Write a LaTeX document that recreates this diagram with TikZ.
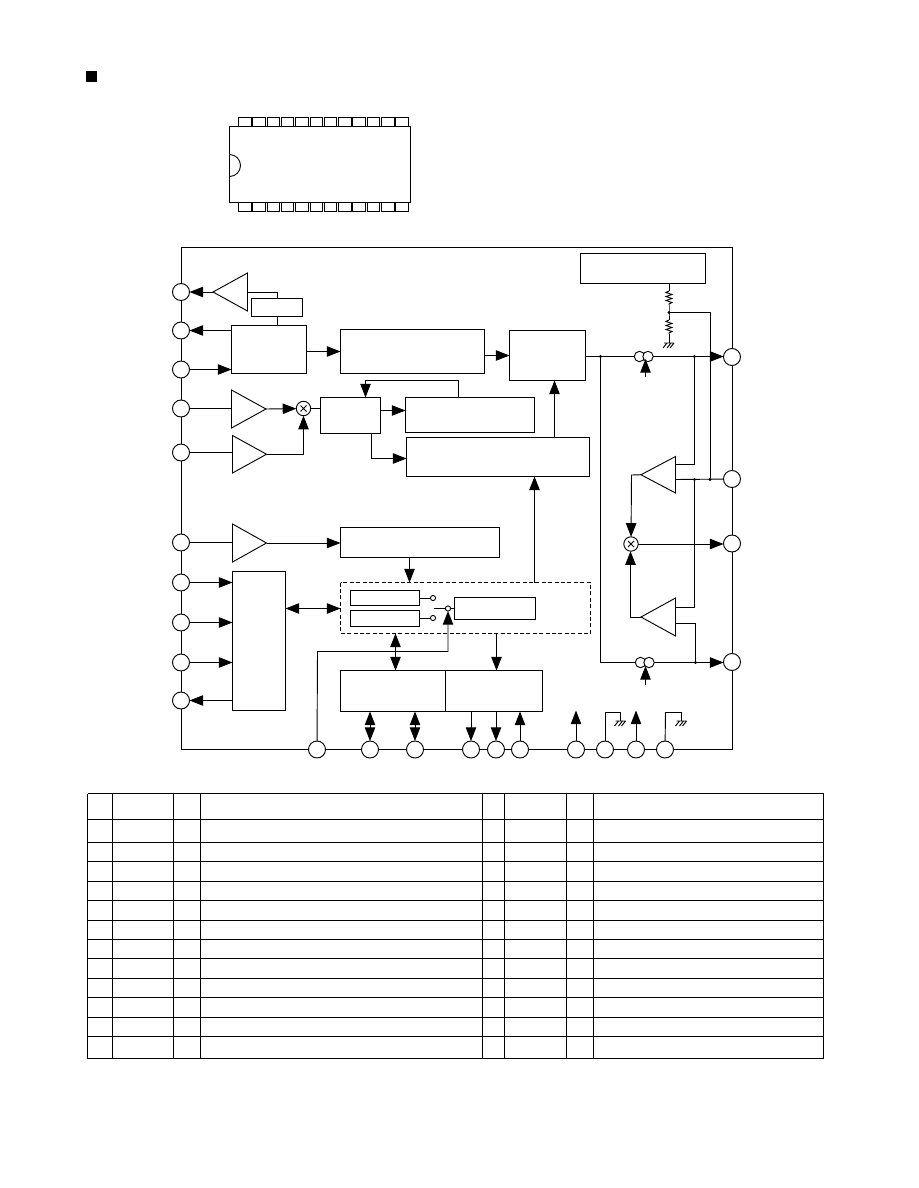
\documentclass[tikz,border=0pt]{standalone}
\usetikzlibrary{arrows.meta,calc}

% Block of given corner coordinates, in picture units of half a point
\newcommand{\blk}[5]{%
  \pgfmathsetmacro{\bw}{(#4-#2)*0.5}%
  \pgfmathsetmacro{\bh}{(#5-#3)*0.5}%
  \node[blockbox,minimum width=\bw pt,minimum height=\bh pt] (#1) at ({(#2+#4)/2},{(#3+#5)/2}) {};}
% Terminal circle of the package outline
\newcommand{\pinc}[3]{\node[pincircle] (#1) at (#2,#3) {};}
% Triangular amplifier: name, base x, top y, bottom y, tip x
\newcommand{\amp}[5]{%
  \coordinate (#1-tip) at (#5,{(#3+#4)/2});
  \coordinate (#1-base) at (#2,{(#3+#4)/2});
  \draw[wire,fill=white] (#2,#3) -- (#1-tip) -- (#2,#4) -- cycle;}
% Multiplier: circle with a cross
\newcommand{\mixer}[3]{%
  \node[mixcircle] (#1) at (#2,#3) {};
  \draw[wire,line width=0.4pt] ($(#1)+(-3,-3)$) -- ($(#1)+(3,3)$) ($(#1)+(-3,3)$) -- ($(#1)+(3,-3)$);}
% Ground symbol with three slanted hatches
\newcommand{\gnd}[1]{%
  \draw[wire] ($(#1)+(-5,0)$) -- ($(#1)+(5,0)$)
    ($(#1)+(-2,0)$) -- ($(#1)+(-6,5)$)
    ($(#1)+(2,0)$) -- ($(#1)+(-2,5)$)
    ($(#1)+(5,0)$) -- ($(#1)+(1,5)$);}
% Vertical resistor zigzag between two named coordinates 14 units apart
\newcommand{\resist}[2]{%
  \draw[wire] (#1) -- ++(-3,1.5) -- ++(6,2) -- ++(-6,2) -- ++(6,2) -- ++(-6,2) -- ++(6,2) -- ++(-3,1.5) -- (#2);}

\tikzset{
  wire/.style={line width=0.46pt,draw=black},
  flow/.style={wire,-{Triangle[length=6.8pt,width=5.2pt]}},
  both/.style={wire,{Triangle[length=6.8pt,width=5.2pt]}-{Triangle[length=6.8pt,width=5.2pt]}},
  blockbox/.style={wire,fill=white,rectangle,inner sep=0pt,outer sep=0pt},
  pincircle/.style={wire,fill=white,circle,inner sep=0pt,outer sep=0pt,minimum size=8.5pt},
  mixcircle/.style={wire,fill=white,circle,inner sep=0pt,outer sep=0pt,minimum size=7.2pt},
  currcircle/.style={wire,fill=white,circle,inner sep=0pt,outer sep=0pt,minimum size=5.2pt},
  tapcircle/.style={wire,fill=white,circle,inner sep=0pt,outer sep=0pt,minimum size=2.6pt},
  joint/.style={fill=black,circle,inner sep=0pt,outer sep=0pt,minimum size=1.6pt},
}

\begin{document}
\begin{tikzpicture}[x=0.5pt,y=-0.5pt]
\useasboundingbox (0,0) rectangle (918,1188);
\fill[white] (0,0) rectangle (918,1188);

% Heading bullet
\fill[black] (86,71) rectangle (97,82);

% Package outline: twelve leads on each long side
\foreach \i in {0,...,11} {
  \pgfmathsetmacro{\lx}{238.5+14.3*\i}
  \blk{lt\i}{\lx}{117}{\lx+12.5}{127}
  \blk{lb\i}{\lx}{201}{\lx+12.5}{211.5}
}
\blk{body}{229.5}{126.5}{410.5}{202.5}
\coordinate (notch) at (229.5,154.5);
\draw[wire] (notch) arc[start angle=90,end angle=-90,radius=5.5pt];

% Frame of the block diagram
\draw[wire] (181.5,247) rectangle (732.5,749.5);

% Terminals, left side
\pinc{pa}{181}{292}
\pinc{pb}{181}{330.5}
\pinc{pc}{181}{369.5}
\pinc{pd}{181}{408.5}
\pinc{pe}{181}{452.5}
\pinc{pf}{181}{542.5}
\pinc{pg}{181}{582.5}
\pinc{ph}{181}{622.5}
\pinc{pi}{181}{662.5}
\pinc{pj}{181}{700.5}
% Terminals, right side
\pinc{qa}{732}{357}
\pinc{qb}{732}{479}
\pinc{qc}{732}{543.5}
\pinc{qd}{732}{662}
% Terminals, bottom side
\pinc{ra}{317}{749.5}
\pinc{rb}{370}{749.5}
\pinc{rc}{415}{749.5}
\pinc{rd}{471}{749.5}
\pinc{re}{496}{749.5}
\pinc{rf}{520}{749.5}
\pinc{rg}{576}{749.5}
\pinc{rh}{605}{749.5}
\pinc{ri}{636}{749.5}
\pinc{rj}{665}{749.5}

% Function blocks
\blk{small}{251.5}{298.5}{302.5}{316.5}
\blk{ctl}{231.5}{325.5}{306.5}{373.5}
\blk{bpf}{340.5}{329.5}{484.5}{373.5}
\blk{det}{509.5}{330.5}{585.5}{380.5}
\blk{top}{580.5}{253.5}{705.5}{283.5}
\blk{vco}{320.5}{397.5}{380.5}{433.5}
\blk{lpf}{405.5}{397.5}{534.5}{432.5}
\blk{pll}{406.5}{437.5}{589.5}{476.5}
\blk{rx}{340.5}{527.5}{499.5}{557.5}
\blk{ser}{232.5}{571.5}{285.5}{710.5}
\blk{regu}{350.5}{590.5}{419.5}{605.5}
\blk{regl}{350.5}{610.5}{419.5}{626.5}
\blk{swb}{454.5}{597.5}{535.5}{619.5}
\blk{mem}{340.5}{670.5}{542.5}{711.5}
\coordinate (memdiv-t) at (445.5,670.5);
\coordinate (memdiv-b) at (445.5,711.5);
\draw[wire] (memdiv-t) -- (memdiv-b);

% Dashed group around the registers and the switch
\coordinate (grp-nw) at (340.5,582.5);
\coordinate (grp-se) at (590.5,633.5);
\draw[wire,dash pattern=on 2pt off 1.2pt] (grp-nw) rectangle (grp-se);
\coordinate (grp-w) at (340.5,608.5);

% Amplifiers
\amp{ampa}{247.5}{273}{311}{213}
\amp{ampb}{231.5}{390}{428}{266}
\amp{ampc}{232.5}{435.5}{473}{266.5}
\amp{ampd}{232.5}{524}{562}{266.5}
\amp{ampe}{675.5}{456.5}{493}{641}
\amp{ampf}{675.5}{598}{636}{641}

% Multipliers
\mixer{mixa}{303.5}{408.5}
\mixer{mixb}{631}{544}

% Current-controlled stages
\node[currcircle] (cua) at (639.5,356.5) {};
\node[currcircle] (cub) at (648,356.5) {};
\node[currcircle] (cuc) at (640.5,662.5) {};
\node[currcircle] (cud) at (649,662.5) {};

% Connectors, upper left
\draw[flow] (ampa-tip) -- (pa);
\coordinate (fbk) at (277.5,292.5);
\draw[wire] (247.5,292.5) -- (fbk) -- (small.north -| fbk);
\draw[wire] (small.south -| fbk) -- (ctl.north -| fbk);
\draw[flow] (ctl.west |- pb) -- (pb);
\draw[flow] (pc) -- (ctl.west |- pc);
\draw[flow] (ctl.east |- bpf) -- (bpf.west);
\draw[flow] (bpf.east |- det) -- (det.west);
\draw[wire] (pd) -- (ampb-base |- pd);
\draw[wire] (pe) -- (ampc-base |- pe);
\draw[flow] (ampb-tip) -- (mixa);
\coordinate (ctn) at (mixa |- ampc-tip);
\draw[flow] (ampc-tip) -- (ctn) -- (mixa);
\draw[wire] (mixa) -- (vco.west |- mixa);
\coordinate (vlp) at (380.5,410.5);
\draw[flow] (vlp) -- (lpf.west |- vlp);
\coordinate (lfb) at (458.5,380.5);
\coordinate (lfc) at (365.5,380.5);
\draw[flow] (lpf.north -| lfb) -- (lfb) -- (lfc) -- (vco.north -| lfc);
\coordinate (vpa) at (371.5,433.5);
\coordinate (vpb) at (371.5,458.5);
\draw[flow] (vpa) -- (vpb) -- (pll.west |- vpb);
\coordinate (pdt) at (554.5,437.5);
\draw[flow] (pdt) -- (det.south -| pdt);

% Connectors, resistor divider
\coordinate (ra1) at (669,291);
\coordinate (ra2) at (669,305);
\coordinate (rjn) at (669,312.5);
\coordinate (rb1) at (669,320);
\coordinate (rb2) at (669,334);
\coordinate (rgn) at (669,343);
\draw[wire] (top.south -| ra1) -- (ra1);
\resist{ra1}{ra2}
\draw[wire] (ra2) -- (rjn) -- (rb1);
\resist{rb1}{rb2}
\draw[wire] (rb2) -- (rgn);
\gnd{rgn}
\node[joint] at (rjn) {};
\coordinate (rtu) at (710,312.5);
\node[joint] (bjb) at (710,479.5) {};
\draw[wire] (rjn) -- (rtu) -- (bjb);

% Connectors, output section
\node[joint] (oja) at (600.5,356.5) {};
\node[joint] (ojb) at (694.5,356.5) {};
\draw[wire] (det.east |- oja) -- (oja) -- (cua);
\draw[flow] (cub) -- (qa.west |- cub);
\coordinate (oaf) at (600.5,662.5);
\draw[wire] (oja) -- (oaf) -- (cuc);
\node[joint] (ojc) at (695.5,662.5) {};
\draw[flow] (cud) -- (qd.west |- cud);
\coordinate (cpa) at (645.5,377);
\coordinate (cpt) at (645.5,359);
\draw[flow] (cpa) -- (cpt);
\coordinate (cpb) at (645.5,685);
\coordinate (cpc) at (645.5,666);
\draw[flow] (cpb) -- (cpc);

\coordinate (eia) at (694.5,464.5);
\draw[wire] (ojb) -- (eia) -- (675.5,464.5);
\node[joint] (ejn) at (694.5,479.5) {};
\draw[wire] (675.5,479.5) -- (qb);
\coordinate (fia) at (694.5,607.5);
\draw[wire] (ejn) -- (fia) -- (675.5,607.5);
\coordinate (fib) at (695.5,623.5);
\draw[wire] (675.5,623.5) -- (fib) -- (ojc);
\coordinate (eol) at (631.5,475);
\draw[flow] (ampe-tip) -- (eol) -- (mixb);
\coordinate (fol) at (630.5,617);
\draw[flow] (ampf-tip) -- (fol) -- (fol |- mixb.south);
\draw[flow] (mixb) -- (qc.west |- mixb);

% Connectors, lower left and registers
\draw[wire] (pf) -- (ampd-base |- pf);
\draw[flow] (ampd-tip) -- (rx.west |- ampd-tip);
\draw[flow] (pg) -- (ser.west |- pg);
\draw[flow] (ph) -- (ser.west |- ph);
\draw[flow] (pi) -- (ser.west |- pi);
\draw[flow] (ser.west |- pj) -- (pj);
\draw[both] (ser.east |- grp-w) -- (grp-w);
\coordinate (rxd) at (409.5,582.5);
\draw[flow] (rx.south -| rxd) -- (rxd);
\node[tapcircle] (tpa) at (433,598) {};
\node[tapcircle] (tpb) at (433,618) {};
\draw[wire] (regu.east |- tpa) -- (tpa);
\draw[wire] (regl.east |- tpb) -- (tpb);
\node[tapcircle] (tpc) at (448,608.5) {};
\coordinate (tps) at (433.5,608.5);
\draw[wire] (tps) -- (tpc);
\draw[wire] (tpc) -- (swb.west |- tpc);
\coordinate (cla) at (317.5,651.5);
\coordinate (clb) at (448,651.5);
\draw[flow] (ra) -- (cla) -- (clb) -- (tpc);
\coordinate (gsa) at (395.5,633.5);
\draw[both] (gsa) -- (mem.north -| gsa);
\coordinate (gsb) at (496.5,633.5);
\draw[flow] (gsb) -- (mem.north -| gsb);
\coordinate (gsc) at (534.5,582.5);
\draw[flow] (gsc) -- (pll.south -| gsc);

% Connectors, bottom terminals
\draw[both] (mem.south -| rb) -- (rb);
\draw[both] (mem.south -| rc) -- (rc);
\draw[flow] (mem.south -| rd) -- (rd);
\draw[flow] (mem.south -| re) -- (re);
\draw[flow] (rf) -- (mem.south -| rf);
\coordinate (vca) at (576,710.5);
\draw[flow] (rg) -- (vca);
\coordinate (vcb) at (636,710.5);
\draw[flow] (ri) -- (vcb);
\coordinate (gha) at (605,712.5);
\coordinate (ghb) at (620.5,712.5);
\coordinate (ghc) at (620.5,721);
\draw[wire] (rh) -- (gha) -- (ghb) -- (ghc);
\gnd{ghc}
\coordinate (gja) at (665.5,712.5);
\coordinate (gjb) at (681.5,712.5);
\coordinate (gjc) at (681.5,721);
\draw[wire] (rj) -- (gja) -- (gjb) -- (gjc);
\gnd{gjc}

% Pin table
\foreach \ry in {793.5,819.5,842.5,861.5,881.5,900.5,920.5,939.5,958.5,978.5,997.5,1017.5,1036.5,1058.5}
  \draw[wire] (87.5,\ry) -- (823.5,\ry);
\foreach \cx in {87.5,112.5,173.5,200.5,482.5,504.5,566.5,593.5,823.5}
  \draw[wire] (\cx,793.5) -- (\cx,1058.5);
\end{tikzpicture}
\end{document}
